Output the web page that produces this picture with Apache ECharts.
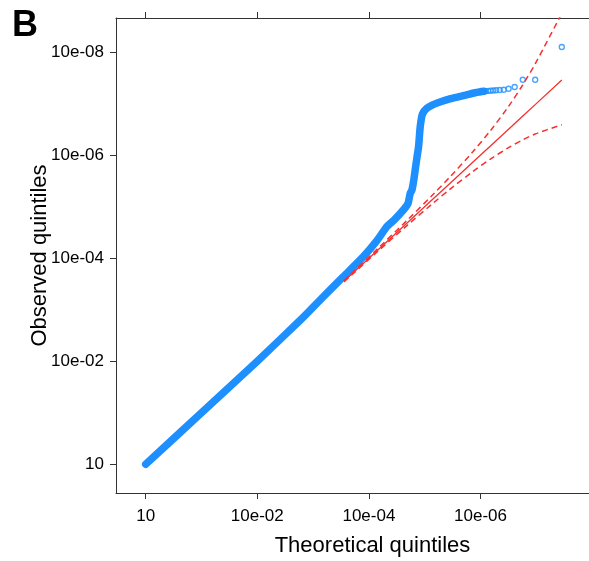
<!DOCTYPE html>
<html>
<head>
<meta charset="utf-8">
<script src="https://cdn.jsdelivr.net/npm/echarts@6/dist/echarts.min.js"></script>
<style>
  html, body { margin: 0; padding: 0; background: #fff; }
  #chart { width: 589px; height: 561px; }
</style>
</head>
<body>
<div id="chart"></div>
<script>
// Axis ticks on the -log10 scale and the labels printed at them
const xTickVals = [0, 2, 4, 6];
const xTickLabels = ['10', '10e-02', '10e-04', '10e-06'];
const yTickVals = [0, 2, 4, 6, 8];
const yTickLabels = ['10', '10e-02', '10e-04', '10e-06', '10e-08'];

// Observed vs theoretical quantiles (-log10 p), dense body of the distribution
const bodyX = [0, 1.0, 2.0, 2.8, 3.18, 3.54, 3.90, 4.15, 4.32, 4.45, 4.62, 4.70, 4.74, 4.77, 4.80,
               4.83, 4.86, 4.89, 4.92, 4.96, 5.04, 5.15, 5.30, 5.45, 5.60, 5.75, 5.90, 6.00, 6.06];
const bodyY = [0, 1.0, 2.0, 2.83, 3.25, 3.64, 4.03, 4.35, 4.61, 4.74, 4.94, 5.06, 5.26, 5.32, 5.49,
               5.72, 5.95, 6.17, 6.56, 6.80, 6.91, 6.98, 7.04, 7.09, 7.13, 7.17, 7.21, 7.23, 7.24];

// Largest individual order statistics, drawn as open circles
const tailX = [7.456, 6.979, 6.757, 6.611, 6.502, 6.415, 6.342, 6.280, 6.226, 6.177, 6.134, 6.093, 6.057, 6.025];
const tailY = [8.097, 7.462, 7.462, 7.320, 7.287, 7.268, 7.262, 7.258, 7.254, 7.250, 7.246, 7.242, 7.238, 7.235];

// Expected quantiles with the 95% confidence band
const bandX  = [3.553, 3.678, 4.155, 4.679, 5.157, 5.460, 5.865, 6.177, 6.502, 6.757, 6.979, 7.456];
const bandUp = [3.567, 3.694, 4.183, 4.728, 5.245, 5.586, 6.068, 6.474, 6.945, 7.364, 7.771, 8.750];
const bandLo = [3.540, 3.662, 4.129, 4.630, 5.074, 5.344, 5.683, 5.922, 6.145, 6.296, 6.409, 6.588];

const FONT = "'Liberation Sans', Arial, Helvetica, sans-serif";
const BLUE = '#1e8fff';
const RED = '#f5302f';
const AXIS = '#333';

const pairs = (xs, ys) => xs.map((v, i) => [v, ys[i]]);

const chart = echarts.init(document.getElementById('chart'), null, { renderer: 'canvas' });

const xBase = {
  type: 'value',
  min: -0.532,
  max: 8.66,
  splitLine: { show: false },
  axisLine: { show: true, onZero: false, lineStyle: { color: AXIS, width: 1 } },
  axisTick: { show: true, inside: false, length: 6, customValues: xTickVals, lineStyle: { color: AXIS } }
};

const option = {
  backgroundColor: '#fff',
  animation: false,
  grid: { left: 116, top: 18, right: -40, bottom: 68, outerBoundsMode: 'none' },
  xAxis: [
    Object.assign({}, xBase, {
      position: 'bottom',
      name: 'Theoretical quintiles',
      nameLocation: 'middle',
      nameGap: 42,
      nameMoveOverlap: false,
      nameTextStyle: { fontFamily: FONT, fontSize: 22, color: '#000' },
      axisLabel: {
        show: true, margin: 15, customValues: xTickVals,
        fontFamily: FONT, fontSize: 17, color: '#000',
        formatter: v => xTickLabels[xTickVals.indexOf(v)]
      }
    }),
    Object.assign({}, xBase, {
      position: 'top',
      axisLabel: { show: false }
    })
  ],
  yAxis: {
    type: 'value',
    min: -0.557,
    max: 8.66,
    position: 'left',
    splitLine: { show: false },
    axisLine: { show: true, onZero: false, lineStyle: { color: AXIS, width: 1 } },
    axisTick: { show: true, inside: false, length: 6, customValues: yTickVals, lineStyle: { color: AXIS } },
    axisLabel: {
      show: true, margin: 12, customValues: yTickVals,
      fontFamily: FONT, fontSize: 17, color: '#000',
      formatter: v => yTickLabels[yTickVals.indexOf(v)]
    },
    name: 'Observed quintiles',
    nameLocation: 'middle',
    nameGap: 65,
    nameMoveOverlap: false,
    nameTextStyle: { fontFamily: FONT, fontSize: 22, color: '#000' }
  },
  graphic: [{
    type: 'text',
    left: 12,
    top: 8,
    style: { text: 'B', font: "bold 36px 'Liberation Sans', Arial, sans-serif", fill: '#000' }
  }],
  series: [
    {
      type: 'line',
      data: pairs(bodyX, bodyY),
      showSymbol: false,
      smooth: 0.2,
      lineStyle: { color: BLUE, width: 7.5, cap: 'round', join: 'round' },
      z: 2
    },
    {
      type: 'scatter',
      data: pairs(tailX, tailY),
      symbol: 'circle',
      symbolSize: 5,
      itemStyle: { color: 'rgba(255,255,255,0)', borderColor: BLUE, borderWidth: 1.4 },
      z: 2
    },
    {
      type: 'line',
      data: bandX.map(v => [v, v]),
      showSymbol: false,
      lineStyle: { color: RED, width: 1.3 },
      z: 3
    },
    {
      type: 'line',
      data: pairs(bandX, bandUp),
      showSymbol: false,
      smooth: 0.3,
      lineStyle: { color: RED, width: 1.5, type: [6, 4] },
      z: 3
    },
    {
      type: 'line',
      data: pairs(bandX, bandLo),
      showSymbol: false,
      smooth: 0.3,
      lineStyle: { color: RED, width: 1.5, type: [6, 4] },
      z: 3
    }
  ]
};

chart.setOption(option);
</script>
</body>
</html>
